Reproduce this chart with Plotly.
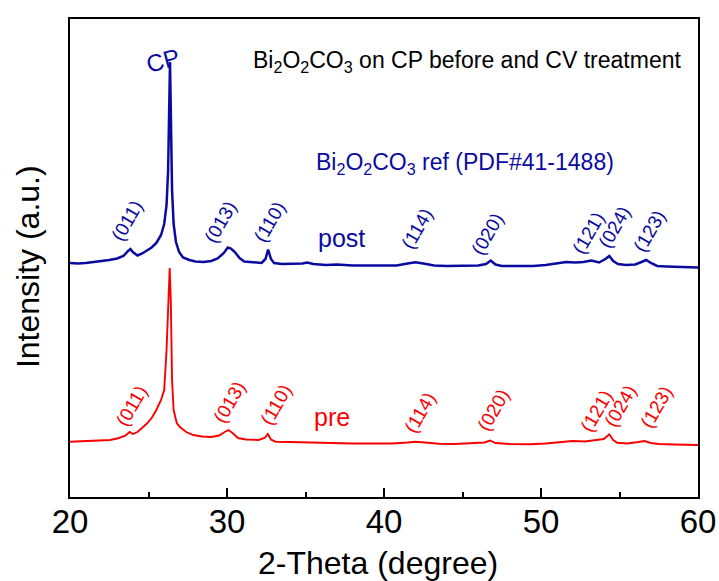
import plotly.graph_objects as go

# ---- data ----
two_theta_post = [20.0, 20.5, 21.0, 21.5, 22.0, 22.5, 23.0, 23.4, 23.7, 23.85, 24.0, 24.3, 24.6, 24.9,
                  25.2, 25.5, 25.8, 26.0, 26.15, 26.25, 26.32, 26.37, 26.42, 26.5, 26.6, 26.75, 26.95,
                  27.2, 27.6, 28.0, 28.5, 29.0, 29.4, 29.8, 30.05, 30.25, 30.5, 30.8, 31.1, 31.6, 32.2,
                  32.45, 32.62, 32.8, 33.0, 33.5, 34.2, 34.8, 35.1, 35.5, 36.3, 37.0, 38.0, 39.0, 40.0,
                  40.8, 41.5, 42.0, 42.5, 43.2, 44.0, 45.0, 46.0, 46.5, 46.8, 47.1, 47.5, 48.5, 49.5,
                  50.3, 51.0, 51.6, 52.2, 52.7, 53.2, 53.7, 54.1, 54.35, 54.6, 54.9, 55.4, 56.0, 56.4,
                  56.7, 57.0, 57.4, 58.0, 59.0, 60.0]
intensity_post = [234, 233.5, 234, 235, 235.5, 237, 238.5, 241, 246, 248, 245, 241.5, 243.5, 246.5,
                  249.5, 254, 262, 273, 292, 327, 387, 435, 387, 307, 273, 255, 245,
                  239.5, 237, 235.5, 235, 236, 238.5, 244, 249.5, 248.5, 245, 239, 235.5, 234.5, 234,
                  238, 247.5, 238, 234, 233, 233, 233.5, 234.5, 233, 232, 232.5, 231.5, 231.5, 231,
                  231.5, 233.5, 234.7, 233.5, 231.5, 231, 231, 231.5, 233, 236.5, 232.5, 231, 231, 231,
                  232, 233.5, 235, 234.5, 235, 236.5, 234.5, 238, 241, 236, 233, 232, 232.5, 235,
                  237, 234, 231, 230.5, 230, 229.5]

two_theta_pre = [20.0, 20.5, 21.0, 21.5, 22.0, 22.55, 23.0, 23.5, 23.8, 24.0, 24.3, 24.6, 24.9, 25.2,
                 25.5, 25.8, 26.0, 26.15, 26.27, 26.35, 26.42, 26.5, 26.6, 26.8, 27.0, 27.4, 27.85,
                 28.4, 29.0, 29.5, 29.85, 30.1, 30.35, 30.7, 31.2, 32.0, 32.4, 32.6, 32.8, 33.1, 34.0,
                 35.3, 36.5, 38.0, 39.5, 40.5, 41.5, 42.0, 42.6, 43.5, 44.5, 45.5, 46.4, 46.75, 47.1,
                 48.0, 49.3, 50.3, 51.2, 52.0, 52.8, 53.5, 54.0, 54.35, 54.6, 54.85, 55.5, 56.2, 56.6,
                 57.0, 57.5, 58.5, 60.0]
intensity_pre = [55.3, 55.5, 56, 56, 56.5, 57, 58.5, 61, 65, 63, 65, 69, 73.5, 79,
                 87, 97, 107, 147, 197, 229, 197, 117, 87, 74, 70, 65, 62,
                 60.5, 60, 61.5, 65, 67, 64, 59, 57.5, 57, 59, 63, 57.5, 55.3, 55,
                 54.3, 54, 53.5, 53.5, 53.5, 54.5, 55.3, 54.5, 53.2, 53, 53.5, 54.5, 56.5, 54,
                 53, 52.7, 53.5, 55, 56, 55.5, 57, 58, 62.7, 57, 54.3, 53.5, 55, 56,
                 54, 53, 52.5, 52]

hkl_labels = ["(011)", "(013)", "(110)", "(114)", "(020)", "(121)", "(024)", "(123)"]

# ---- label placement (positions only) ----
post_label_x = [23.63, 29.55, 32.68, 42.1, 46.56, 52.99, 54.65, 56.88]
post_label_y = [277, 275, 275, 269, 263, 264, 270, 266]
pre_label_x = [23.89, 30.13, 33.12, 42.29, 46.94, 53.5, 55.03, 57.32]
pre_label_y = [91, 95, 93, 85, 87, 86, 91, 90]

BLUE = "rgb(10,10,160)"
RED = "rgb(250,0,0)"
FONT = "Liberation Sans, Arial"

fig = go.Figure()
fig.add_trace(go.Scatter(x=two_theta_post, y=intensity_post, mode="lines",
                         line=dict(color=BLUE, width=2.5), showlegend=False))
fig.add_trace(go.Scatter(x=two_theta_pre, y=intensity_pre, mode="lines",
                         line=dict(color=RED, width=1.9), showlegend=False))

ann = []
for t, x, y in zip(hkl_labels, post_label_x, post_label_y):
    ann.append(dict(x=x, y=y, xref="x", yref="y", text=t, showarrow=False, textangle=-60,
                    font=dict(family=FONT, size=19, color=BLUE)))
for t, x, y in zip(hkl_labels, pre_label_x, pre_label_y):
    ann.append(dict(x=x, y=y, xref="x", yref="y", text=t, showarrow=False, textangle=-60,
                    font=dict(family=FONT, size=19, color=RED)))

ann += [
    dict(x=37.32, y=259, xref="x", yref="y", text="post", showarrow=False,
         font=dict(family=FONT, size=25, color=BLUE)),
    dict(x=36.7, y=80, xref="x", yref="y", text="pre", showarrow=False,
         font=dict(family=FONT, size=25, color=RED)),
    dict(x=45.15, y=334, xref="x", yref="y", text="Bi<sub>2</sub>O<sub>2</sub>CO<sub>3</sub> ref (PDF#41-1488)",
         showarrow=False, font=dict(family=FONT, size=23, color=BLUE)),
    dict(x=45.28, y=436, xref="x", yref="y",
         text="Bi<sub>2</sub>O<sub>2</sub>CO<sub>3</sub> on CP before and CV treatment",
         showarrow=False, font=dict(family=FONT, size=23, color="black")),
    dict(x=25.92, y=437, xref="x", yref="y", text="CP", showarrow=False, textangle=-15,
         font=dict(family=FONT, size=24, color=BLUE)),
    dict(x=-0.0669, y=0.483, xref="paper", yref="paper", xanchor="center", yanchor="middle",
         text="Intensity (a.u.)", showarrow=False,
         textangle=-90, font=dict(family=FONT, size=32, color="black")),
    dict(x=0.490, y=-0.138, xref="paper", yref="paper", xanchor="center", yanchor="middle",
         text="2-Theta (degree)", showarrow=False,
         font=dict(family=FONT, size=32, color="black")),
]

fig.update_layout(
    width=719, height=581,
    margin=dict(l=70, r=21, t=19, b=84, autoexpand=False),
    paper_bgcolor="white", plot_bgcolor="white",
    annotations=ann,
    xaxis=dict(range=[20, 60], dtick=10, tick0=20, ticks="inside", ticklen=9, tickwidth=2,
               tickcolor="black", showline=True, linewidth=2, linecolor="black", mirror=True,
               showgrid=False, zeroline=False, automargin=False, ticklabelstandoff=-6,
               tickfont=dict(family=FONT, size=33, color="black"),
               minor=dict(dtick=5, ticks="inside", ticklen=5, tickwidth=2, tickcolor="black")),
    yaxis=dict(range=[0, 478], showticklabels=False, ticks="", showline=True, linewidth=2,
               linecolor="black", mirror=True, showgrid=False, zeroline=False, automargin=False),
)

fig.write_html("out.html")
